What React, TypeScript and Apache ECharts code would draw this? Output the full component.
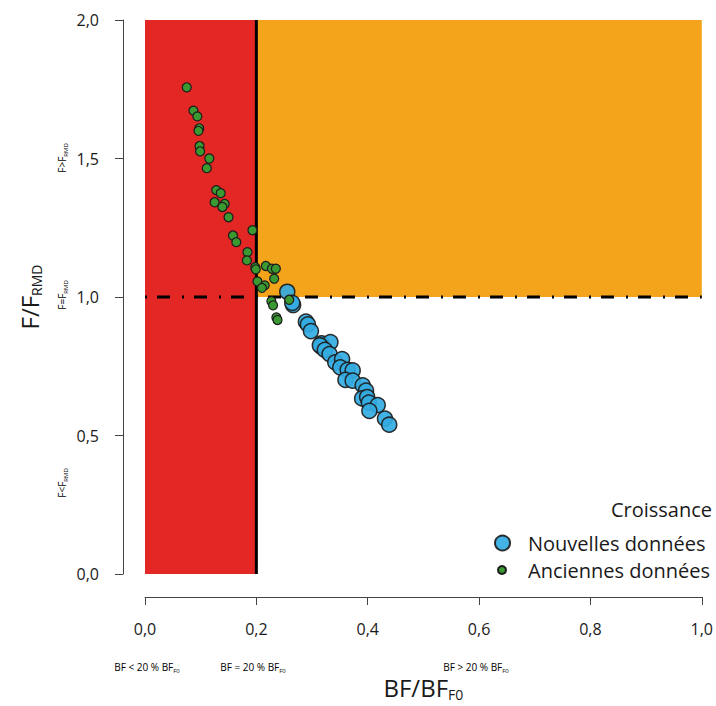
import React, { useEffect, useRef } from "react";
import * as echarts from "echarts";

// Anciennes données (BF/BF_F0, F/F_RMD)
const oldData: number[][] = [
  [0.075, 1.757], [0.087, 1.673], [0.094, 1.652], [0.0975, 1.609], [0.096, 1.6],
  [0.098, 1.545], [0.099, 1.526], [0.1155, 1.5], [0.111, 1.465], [0.128, 1.386],
  [0.136, 1.375], [0.125, 1.342], [0.143, 1.336], [0.139, 1.325], [0.15, 1.288],
  [0.193, 1.241], [0.158, 1.222], [0.164, 1.198], [0.184, 1.162], [0.183, 1.132],
  [0.198, 1.108], [0.199, 1.1], [0.217, 1.112], [0.228, 1.102], [0.235, 1.102],
  [0.232, 1.066], [0.202, 1.056], [0.215, 1.042], [0.21, 1.033], [0.227, 0.985],
  [0.23, 0.97], [0.236, 0.926], [0.238, 0.917], [0.259, 0.99],
];

// Nouvelles données
const newData: number[][] = [
  [0.2555, 1.019], [0.266, 0.971], [0.2645, 0.979], [0.289, 0.911], [0.2926, 0.901],
  [0.298, 0.877], [0.317, 0.833], [0.333, 0.837], [0.316, 0.821], [0.314, 0.826],
  [0.323, 0.809], [0.3315, 0.794], [0.3417, 0.764], [0.354, 0.776], [0.3507, 0.746],
  [0.364, 0.737], [0.373, 0.735], [0.36, 0.701], [0.373, 0.698], [0.391, 0.681],
  [0.397, 0.662], [0.39, 0.634], [0.399, 0.639], [0.402, 0.619], [0.418, 0.61],
  [0.403, 0.589], [0.431, 0.561], [0.4386, 0.539],
];

// zones: [x0, y0, x1, y1]
const zones: number[][] = [
  [0, 0, 0.2, 2],
  [0.2, 1, 1, 2],
];
const zoneColors = ["#E32724", "#F4A41A"];

const bfLimit: number[][] = [[0.2, 0], [0.2, 2]];
const fLimit: number[][] = [[0, 1], [1, 1]];

const xTicks = { min: 0, max: 1, interval: 0.2 };
const yTicks = { min: 0, max: 2, interval: 0.5 };

const FONT = "Open Sans";
const INK = "#1a1a1a";

const fmt = (v: number) => v.toFixed(1).replace(".", ",");

export default function App() {
  const ref = useRef<HTMLDivElement>(null);
  useEffect(() => {
    if (!ref.current) return;
    const chart = echarts.init(ref.current, null, { renderer: "svg" });

    const subRich = (size: number, subSize: number, drop: number) => ({
      m: { fontSize: size, lineHeight: size, fontFamily: FONT, color: INK, verticalAlign: "top" },
      s: {
        fontSize: subSize,
        lineHeight: subSize,
        fontFamily: FONT,
        color: INK,
        verticalAlign: "top",
        padding: [drop, 0, 0, 0],
      },
    });

    const smallText = (text: string, x: number, y: number, rot = 0) => ({
      type: "text",
      x,
      y,
      rotation: rot,
      silent: true,
      style: {
        text,
        align: "center",
        verticalAlign: "middle",
        rich: subRich(10, 6, 6),
      },
    });

    const axisCommon = {
      axisLine: { show: true, onZero: false, lineStyle: { color: "#444", width: 1 } },
      axisTick: { show: true, length: 8, lineStyle: { color: "#444", width: 1 } },
      splitLine: { show: false },
      axisLabel: { fontSize: 16, color: INK, margin: 24, formatter: fmt, fontFamily: FONT },
    };

    chart.setOption({
      animation: false,
      textStyle: { fontFamily: FONT },
      grid: { left: 145, top: 20, width: 557, height: 557 },
      title: {
        text: "Croissance",
        right: 4,
        top: 499,
        padding: 0,
        textStyle: { fontSize: 20, fontWeight: "normal", fontFamily: FONT, color: INK },
      },
      legend: [
        {
          data: ["Nouvelles données"],
          left: 494,
          top: 533,
          padding: 0,
          icon: "circle",
          itemWidth: 15,
          itemHeight: 15,
          textStyle: { fontSize: 20, fontFamily: FONT, color: INK, padding: [0, 0, 0, 13] },
        },
        {
          data: ["Anciennes données"],
          left: 497,
          top: 560,
          padding: 0,
          icon: "circle",
          itemWidth: 8,
          itemHeight: 8,
          textStyle: { fontSize: 20, fontFamily: FONT, color: INK, padding: [0, 0, 0, 17] },
        },
      ],
      xAxis: {
        type: "value",
        ...xTicks,
        offset: 23,
        name: "{m|BF/BF}{s|F0}",
        nameLocation: "middle",
        nameGap: 78,
        nameTextStyle: { rich: subRich(24, 14, 12) },
        ...axisCommon,
      },
      yAxis: {
        type: "value",
        ...yTicks,
        offset: 22,
        name: "{m|F/F}{s|RMD}",
        nameLocation: "middle",
        nameGap: 82,
        nameTextStyle: { rich: subRich(24, 14, 12) },
        ...axisCommon,
      },
      graphic: [
        smallText("{m|F>F}{s|RMD}", 62, 158, Math.PI / 2),
        smallText("{m|F=F}{s|RMD}", 62, 295, Math.PI / 2),
        smallText("{m|F<F}{s|RMD}", 62, 483, Math.PI / 2),
        smallText("{m|BF < 20 % BF}{s|F0}", 147, 667),
        smallText("{m|BF = 20 % BF}{s|F0}", 253, 667),
        smallText("{m|BF > 20 % BF}{s|F0}", 476, 667),
      ],
      series: [
        {
          type: "custom",
          name: "zones",
          z: 1,
          silent: true,
          data: zones,
          encode: { x: [0, 2], y: [1, 3] },
          renderItem: (params: any, api: any) => {
            const p0 = api.coord([api.value(0), api.value(3)]);
            const p1 = api.coord([api.value(2), api.value(1)]);
            return {
              type: "rect",
              shape: { x: p0[0], y: p0[1], width: p1[0] - p0[0], height: p1[1] - p0[1] },
              style: { fill: zoneColors[params.dataIndex] },
            };
          },
        },
        {
          type: "line",
          name: "bf",
          z: 2,
          silent: true,
          data: bfLimit,
          symbol: "none",
          lineStyle: { color: "#000", width: 3 },
        },
        {
          type: "line",
          name: "f",
          z: 2,
          silent: true,
          data: fLimit,
          symbol: "none",
          lineStyle: { color: "#000", width: 3, type: [2, 10, 13, 12], cap: "butt" },
        },
        {
          type: "scatter",
          name: "Nouvelles données",
          z: 3,
          data: newData,
          symbol: "circle",
          symbolSize: 15,
          itemStyle: { color: "#33ABE2", opacity: 0.92, borderColor: "#1c1c1c", borderWidth: 1.5 },
        },
        {
          type: "scatter",
          name: "Anciennes données",
          z: 4,
          data: oldData,
          symbol: "circle",
          symbolSize: 9,
          itemStyle: { color: "#3A9A31", opacity: 1, borderColor: "#1c1c1c", borderWidth: 1.2 },
        },
      ],
    });
    return () => chart.dispose();
  }, []);
  return (
    <div
      ref={ref}
      style={{ position: "fixed", left: 0, top: 0, width: 716, height: 706, background: "#fff" }}
    />
  );
}
